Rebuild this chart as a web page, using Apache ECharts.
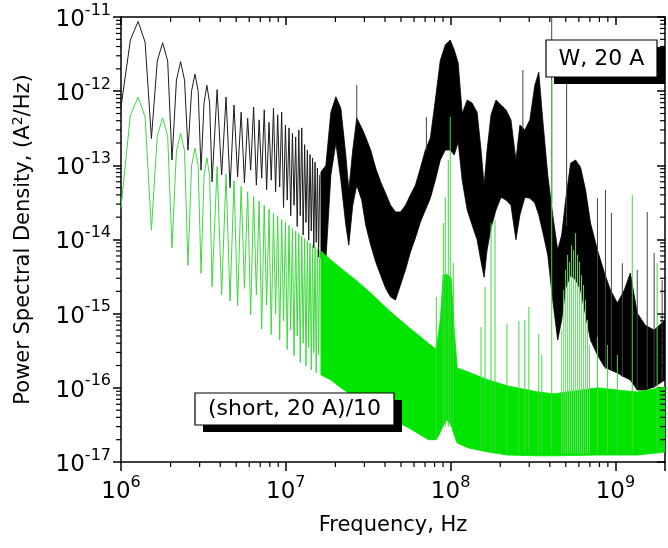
<!DOCTYPE html>
<html><head><meta charset="utf-8">
<script src="https://cdn.jsdelivr.net/npm/echarts@6.0.0/dist/echarts.min.js"></script>
<style>html,body{margin:0;padding:0;background:#fff}#c{width:668px;height:548px}</style>
</head><body><div id="c"></div>
<script>
// ---------- data ----------
// fringe region, shared frequencies (Hz)
const fringeF = [1.00e6,1.14e6,1.27e6,1.40e6,1.53e6,1.66e6,1.79e6,1.92e6,2.04e6,2.17e6,2.30e6,2.43e6,2.55e6,2.68e6,2.81e6,2.94e6,3.06e6,3.19e6,3.32e6,3.45e6,3.57e6,3.83e6,4.08e6,4.34e6,4.59e6,4.85e6,5.10e6,5.36e6,5.61e6,5.87e6,6.12e6,6.38e6,6.63e6,6.89e6,7.14e6,7.40e6,7.65e6,7.91e6,8.16e6,8.42e6,8.67e6,8.93e6,9.18e6,9.44e6,9.69e6,9.95e6,10.20e6,10.46e6,10.71e6,10.97e6,11.22e6,11.48e6,11.73e6,11.99e6,12.24e6,12.50e6,12.75e6,13.01e6,13.26e6,13.52e6,13.77e6,14.03e6,14.28e6,14.54e6,14.79e6,15.05e6,15.30e6,15.56e6,15.81e6,16.07e6];
const blackFringeV = [6.1e-13,4.9e-12,8.7e-12,4.6e-12,2.3e-13,2.55e-12,4.5e-12,2.55e-12,1.18e-13,1.41e-12,2.5e-12,1.41e-12,1.6e-13,1.0e-12,1.7e-12,1.0e-12,8.6e-14,6.9e-13,1.2e-12,6.9e-13,6.0e-14,1.05e-12,7.4e-14,8.3e-13,5.0e-14,6.5e-13,7.0e-14,5.2e-13,5.8e-14,4.3e-13,8.6e-14,6.1e-13,5.4e-14,4.1e-13,6.7e-14,5.6e-13,4.7e-14,3.8e-13,6.3e-14,5.9e-13,4.4e-14,4.8e-13,5.1e-14,5.2e-13,2.7e-14,3.5e-13,3.4e-14,3.2e-13,2.1e-14,2.7e-13,2.9e-14,2.4e-13,1.5e-14,3.0e-13,2.1e-14,3.2e-13,1.15e-14,1.9e-13,1.7e-14,1.6e-13,9.8e-15,1.4e-13,1.3e-14,1.26e-13,7.7e-15,1.1e-13,9.2e-15,9.2e-14,5.8e-15,7.4e-14];
const greenFringeV = [2.7e-14,4.8e-13,8.3e-13,4.5e-13,1.34e-14,2.5e-13,4.35e-13,2.5e-13,7.7e-15,1.56e-13,2.7e-13,1.56e-13,4.5e-15,9.8e-14,1.71e-13,9.8e-14,3.5e-15,7.2e-14,1.26e-13,7.2e-14,2.3e-15,9.6e-14,1.8e-15,7.6e-14,1.48e-15,6.2e-14,1.27e-15,5.2e-14,2.2e-15,4.4e-14,9.6e-16,3.8e-14,1.8e-15,3.3e-14,6.2e-16,2.9e-14,1.3e-15,2.55e-14,5.2e-16,2.28e-14,1.0e-15,2.05e-14,4.4e-16,1.85e-14,8.0e-16,1.69e-14,3.3e-16,1.54e-14,6.0e-16,1.41e-14,2.7e-16,1.30e-14,5.0e-16,1.20e-14,2.2e-16,1.11e-14,4.0e-16,1.03e-14,1.97e-16,9.6e-15,3.5e-16,9.0e-15,1.74e-16,8.4e-15,3.0e-16,7.9e-15,1.59e-16,7.45e-15,2.8e-16,7.0e-15];

// dense noisy band of "W, 20 A": upper / lower envelope
const blackBandF = [1.634e7,1.751e7,1.877e7,2.013e7,2.158e7,2.313e7,2.412e7,2.549e7,2.695e7,2.888e7,3.054e7,3.274e7,3.510e7,3.762e7,4.033e7,4.323e7,4.634e7,4.967e7,5.325e7,5.708e7,6.118e7,6.559e7,7.031e7,7.537e7,8.079e7,8.660e7,9.286e7,9.954e7,1.052e8,1.112e8,1.176e8,1.261e8,1.351e8,1.448e8,1.531e8,1.597e8,1.665e8,1.760e8,1.886e8,2.022e8,2.168e8,2.324e8,2.491e8,2.634e8,2.823e8,3.026e8,3.244e8,3.429e8,3.625e8,3.886e8,4.166e8,4.466e8,4.721e8,4.991e8,5.350e8,5.735e8,6.148e8,6.591e8,7.063e8,7.785e8,8.582e8,9.328e8,1.028e9,1.133e9,1.232e9,1.357e9,1.517e9,1.719e9,2.0e9];
const blackBandHi = [8.1e-14,1.0e-13,5.2e-13,8.4e-13,5.9e-13,1.38e-13,4.65e-14,1.61e-13,4.35e-13,3.2e-13,2.4e-13,1.61e-13,9.2e-14,6.0e-14,4.2e-14,2.9e-14,2.35e-14,2.35e-14,2.9e-14,4.0e-14,5.4e-14,9.2e-14,1.61e-13,2.34e-13,7.6e-13,2.6e-12,4.2e-12,4.9e-12,3.6e-12,2.4e-12,5.0e-13,7.6e-13,6.9e-13,5.2e-13,1.61e-13,5.4e-14,1.61e-13,4.8e-13,7.6e-13,6.5e-13,5.6e-13,4.1e-13,1.18e-13,3.5e-13,3.0e-13,4.1e-13,1.2e-12,1.8e-12,4.1e-13,7.4e-14,2.14e-14,7.2e-15,1.15e-14,3.4e-14,1.07e-13,1.18e-13,9.4e-14,4.65e-14,1.67e-14,7.2e-15,3.54e-15,2.09e-15,1.39e-15,2.09e-15,3.54e-15,1.02e-15,7.0e-16,6.0e-16,8.2e-16];
const blackBandLo = [5.6e-15,5.3e-15,7.4e-14,2.0e-13,6.3e-14,1.57e-14,8.4e-15,2.9e-14,5.4e-14,3.4e-14,1.57e-14,8.4e-15,5.0e-15,3.3e-15,2.2e-15,1.68e-15,1.53e-15,2.44e-15,3.9e-15,6.8e-15,1.05e-14,1.72e-14,2.5e-14,3.6e-14,6.3e-14,1.18e-13,1.61e-13,1.61e-13,1.38e-13,2.06e-13,6.3e-14,2.5e-14,1.57e-14,9.9e-15,5.0e-15,3.1e-15,7.2e-15,1.43e-14,2.5e-14,3.7e-14,3.4e-14,2.9e-14,9.9e-15,2.14e-14,3.7e-14,3.6e-14,3.1e-14,2.14e-14,1.26e-14,6.2e-15,1.53e-15,4.4e-16,8.2e-16,2.2e-15,3.3e-15,2.85e-15,2.09e-15,9.6e-16,4.4e-16,2.77e-16,1.91e-16,1.74e-16,1.59e-16,1.40e-16,1.28e-16,9.35e-17,9.35e-17,1.03e-16,1.28e-16];

// isolated lines of "W, 20 A"
const blackSpikeF    = [2.695e7,7.131e7,2.745e8,4.108e8,5.06e8,7.785e8,8.70e8,9.46e8,1.102e9,1.357e9,1.56e9,1.719e9,1.921e9];
const blackSpikeBase = [4.35e-13,1.6e-13,3.0e-13,3.0e-14,1.5e-14,2.0e-16,1.8e-16,1.7e-16,1.4e-16,1.0e-16,1.0e-16,1.0e-16,1.2e-16];
const blackSpikeTop  = [1.21e-12,4.48e-13,1.93e-12,1.0e-11,2.6e-12,3.6e-14,4.65e-14,2.28e-14,4.8e-15,3.9e-15,2.35e-14,6.6e-15,2.85e-15];

// dense band of "(short, 20 A)/10"
const greenBandF  = [1.634e7,1.877e7,2.158e7,2.658e7,3.274e7,4.205e7,5.551e7,7.332e7,8.194e7,8.660e7,9.03e7,9.546e7,1.009e8,1.052e8,1.097e8,1.278e8,1.688e8,2.229e8,3.381e8,4.225e8,7.785e8,1.028e9,1.357e9,2.0e9];
const greenBandHi = [7.0e-15,5.3e-15,4.1e-15,2.85e-15,1.9e-15,1.12e-15,6.6e-16,4.0e-16,3.3e-16,8.2e-16,3.3e-15,3.4e-15,3.0e-15,6.0e-16,1.85e-16,1.64e-16,1.28e-16,1.06e-16,8.8e-17,8.3e-17,1.0e-16,9.35e-17,8.8e-17,1.03e-16];
const greenBandLo = [1.49e-16,1.28e-16,1.0e-16,7.3e-17,5.35e-17,3.9e-17,2.9e-17,2.0e-17,2.0e-17,2.5e-17,3.15e-17,3.7e-17,3.15e-17,2.3e-17,1.8e-17,1.55e-17,1.36e-17,1.24e-17,1.21e-17,1.21e-17,1.24e-17,1.24e-17,1.24e-17,1.36e-17];

// isolated lines of "(short, 20 A)/10"
const greenSpikeF    = [8.194e7,9.03e7,9.286e7,9.68e7,9.954e7,1.038e8,1.531e8,1.619e8,1.760e8,1.86e8,2.198e8,2.597e8,2.823e8,2.985e8,3.429e8,3.58e8,4.108e8,7.785e8,8.946e8,1.028e9,1.266e9,1.792e9];
const greenSpikeBase = [2.0e-17,3.0e-17,3.0e-17,3.0e-17,3.0e-17,3.0e-17,1.5e-17,1.5e-17,1.4e-17,1.4e-17,1.3e-17,1.3e-17,1.3e-17,1.3e-17,1.3e-17,1.3e-17,1.3e-17,1.3e-17,1.3e-17,1.3e-17,1.3e-17,1.3e-17];
const greenSpikeTop  = [1.68e-15,1.67e-14,3.7e-14,1.18e-13,4.5e-13,4.8e-15,6.6e-16,2.29e-15,1.67e-14,1.83e-14,7.3e-16,8.0e-16,8.2e-16,1.23e-15,5.3e-16,2.8e-16,1.41e-12,4.85e-16,3.78e-16,2.77e-16,3.98e-14,4.8e-15];
// cluster of lines of "(short, 20 A)/10" around 5-7 x 10^8 Hz
const greenHumpF   = [4.721e8,4.856e8,4.991e8,5.131e8,5.276e8,5.424e8,5.577e8,5.735e8,5.896e8,6.062e8,6.233e8,6.409e8,6.591e8,6.772e8,6.966e8];
const greenHumpTop = [6.0e-16,2.09e-15,3.9e-15,6.2e-15,5.0e-15,8.4e-15,7.2e-15,1.22e-14,6.2e-15,5.0e-15,3.3e-15,2.44e-15,1.53e-15,8.2e-16,3.8e-16];
const greenHumpBase = [1.3e-17,1.3e-17,1.3e-17,1.3e-17,1.3e-17,1.3e-17,1.3e-17,1.3e-17,1.3e-17,1.3e-17,1.3e-17,1.3e-17,1.3e-17,1.3e-17,1.3e-17];

// axis ranges
const xRange = [1e6, 2e9];
const yRange = [1e-17, 1e-11];
const xDecades = [1e6, 1e7, 1e8, 1e9];
const yDecades = [1e-17, 1e-16, 1e-15, 1e-14, 1e-13, 1e-12];

// ---------- chart ----------
const FONT = 'DejaVu Sans';
const BLACK = '#000';
const GREEN_LINE = '#3fd83f';
const GREEN_LIGHT = '#62df62';
const GREEN_FILL = '#00e400';

const xMinor = [];
xDecades.forEach(d => { for (let m = 2; m <= 9; m++) { const v = m * d; if (v < xRange[1]) xMinor.push(v); } });
const yMinor = [];
yDecades.forEach(d => { for (let m = 2; m <= 9; m++) yMinor.push(m * d); });

function supLabel(v) {
  const lg = Math.log10(v), n = Math.round(lg);
  if (Math.abs(lg - n) > 0.01) return '';
  return '{b|10}{s|' + n + '}';
}
const tickRich = {
  b: { fontFamily: FONT, fontSize: 23, lineHeight: 29, verticalAlign: 'bottom', color: '#000' },
  s: { fontFamily: FONT, fontSize: 16, lineHeight: 16, verticalAlign: 'top', color: '#000' }
};
const axisLine = { show: true, onZero: false, lineStyle: { color: '#000', width: 1.5 } };

function bandRenderer(F, HI, LO, color) {
  return function (params, api) {
    if (params.dataIndex !== 0) return null;
    const pts = [];
    for (let i = 0; i < F.length; i++) pts.push(api.coord([F[i], HI[i]]));
    for (let i = F.length - 1; i >= 0; i--) pts.push(api.coord([F[i], LO[i]]));
    return { type: 'polygon', shape: { points: pts }, style: { fill: color, stroke: color, lineWidth: 0.8 } };
  };
}
function spikeRenderer(color, width) {
  return function (params, api) {
    const a = api.coord([api.value(0), api.value(1)]);
    const b = api.coord([api.value(0), api.value(2)]);
    return { type: 'line', shape: { x1: a[0], y1: a[1], x2: b[0], y2: b[1] }, style: { stroke: color, lineWidth: width } };
  };
}

const chart = echarts.init(document.getElementById('c'), null, { renderer: 'canvas' });
chart.setOption({
  animation: false,
  backgroundColor: '#fff',
  grid: { left: 121, right: 1, top: 17, bottom: 86 },
  xAxis: [
    { type: 'log', logBase: 10, min: xRange[0], max: xRange[1], splitNumber: 4, position: 'bottom',
      axisLine: axisLine, axisTick: { show: true, inside: false, length: 9, lineStyle: { color: '#000', width: 1.5 } },
      axisLabel: { formatter: supLabel, rich: tickRich, margin: 13 },
      splitLine: { show: false }, minorTick: { show: false },
      name: 'Frequency, Hz', nameLocation: 'middle', nameGap: 53,
      nameTextStyle: { fontFamily: FONT, fontSize: 21, color: '#000' } },
    { type: 'log', logBase: 10, min: xRange[0], max: xRange[1], splitNumber: 4, position: 'top',
      axisLine: axisLine, axisTick: { show: true, inside: true, length: 8, lineStyle: { color: '#000', width: 1.5 } },
      axisLabel: { show: false }, splitLine: { show: false } }
  ],
  yAxis: [
    { type: 'log', logBase: 10, min: yRange[0], max: yRange[1], splitNumber: 6, position: 'left',
      axisLine: axisLine, axisTick: { show: true, inside: false, length: 8, lineStyle: { color: '#000', width: 1.5 } },
      axisLabel: { formatter: supLabel, rich: tickRich, margin: 10 },
      splitLine: { show: false }, minorTick: { show: false },
      name: 'Power Spectral Density, (A{u|2}/Hz)', nameLocation: 'middle', nameRotate: 90, nameGap: 84,
      nameTextStyle: { fontFamily: FONT, fontSize: 21, color: '#000', lineHeight: 26,
        rich: { u: { fontFamily: FONT, fontSize: 14, lineHeight: 14, verticalAlign: 'top', color: '#000' } } } },
    { type: 'log', logBase: 10, min: yRange[0], max: yRange[1], splitNumber: 6, position: 'right',
      axisLine: axisLine, axisTick: { show: true, inside: true, length: 8, lineStyle: { color: '#000', width: 1.5 } },
      axisLabel: { show: false }, splitLine: { show: false } }
  ],
  series: [
    { name: 'W, 20 A fringes', type: 'line', data: fringeF.map((f, i) => [f, blackFringeV[i]]),
      showSymbol: false, symbol: 'none', lineStyle: { color: '#1c1c1c', width: 1 }, z: 2 },
    { name: 'W, 20 A band', type: 'custom', coordinateSystem: 'cartesian2d', clip: true, z: 2,
      data: blackBandF.map((f, i) => [f, blackBandHi[i], blackBandLo[i]]), encode: { x: 0, y: [1, 2] },
      renderItem: bandRenderer(blackBandF, blackBandHi, blackBandLo, BLACK) },
    { name: 'W, 20 A lines', type: 'custom', coordinateSystem: 'cartesian2d', clip: true, z: 2,
      data: blackSpikeF.map((f, i) => [f, blackSpikeBase[i], blackSpikeTop[i]]), encode: { x: 0, y: [1, 2] },
      renderItem: spikeRenderer('#444', 1) },
    { name: 'short fringes', type: 'line', data: fringeF.map((f, i) => [f, greenFringeV[i]]),
      showSymbol: false, symbol: 'none', lineStyle: { color: GREEN_LINE, width: 1 }, z: 3 },
    { name: 'short band', type: 'custom', coordinateSystem: 'cartesian2d', clip: true, z: 3,
      data: greenBandF.map((f, i) => [f, greenBandHi[i], greenBandLo[i]]), encode: { x: 0, y: [1, 2] },
      renderItem: bandRenderer(greenBandF, greenBandHi, greenBandLo, GREEN_FILL) },
    { name: 'short lines', type: 'custom', coordinateSystem: 'cartesian2d', clip: true, z: 3,
      data: greenSpikeF.map((f, i) => [f, greenSpikeBase[i], greenSpikeTop[i]]), encode: { x: 0, y: [1, 2] },
      renderItem: spikeRenderer(GREEN_LINE, 1) },
    { name: 'short cluster', type: 'custom', coordinateSystem: 'cartesian2d', clip: true, z: 3,
      data: greenHumpF.map((f, i) => [f, greenHumpBase[i], greenHumpTop[i]]), encode: { x: 0, y: [1, 2] },
      renderItem: spikeRenderer(GREEN_LIGHT, 1) },
    { name: 'x minor ticks', type: 'custom', coordinateSystem: 'cartesian2d', clip: false, silent: true, z: 10,
      data: xMinor.map(v => [v, yRange[0]]),
      renderItem: function (params, api) {
        const b = api.coord([api.value(0), yRange[0]]), t = api.coord([api.value(0), yRange[1]]);
        return { type: 'group', children: [
          { type: 'line', shape: { x1: b[0], y1: b[1], x2: b[0], y2: b[1] + 5 }, style: { stroke: '#000', lineWidth: 1.2 } },
          { type: 'line', shape: { x1: t[0], y1: t[1], x2: t[0], y2: t[1] + 5 }, style: { stroke: '#000', lineWidth: 1.2 } } ] };
      } },
    { name: 'y minor ticks', type: 'custom', coordinateSystem: 'cartesian2d', clip: false, silent: true, z: 10,
      data: yMinor.map(v => [xRange[0], v]),
      renderItem: function (params, api) {
        const l = api.coord([xRange[0], api.value(1)]), r = api.coord([xRange[1], api.value(1)]);
        return { type: 'group', children: [
          { type: 'line', shape: { x1: l[0], y1: l[1], x2: l[0] - 5, y2: l[1] }, style: { stroke: '#000', lineWidth: 1.2 } },
          { type: 'line', shape: { x1: r[0], y1: r[1], x2: r[0] - 5, y2: r[1] }, style: { stroke: '#000', lineWidth: 1.2 } } ] };
      } }
  ],
  graphic: [
    { type: 'rect', z: 100, shape: { x: 554, y: 47, width: 111, height: 37 }, style: { fill: '#000' } },
    { type: 'rect', z: 101, shape: { x: 546, y: 40, width: 111, height: 37 }, style: { fill: '#fff', stroke: '#000', lineWidth: 1.2 } },
    { type: 'text', z: 102, x: 601.5, y: 59, style: { text: 'W, 20 A', fontFamily: FONT, fontSize: 22, fill: '#000', align: 'center', verticalAlign: 'middle' } },
    { type: 'rect', z: 100, shape: { x: 203, y: 400, width: 199, height: 32 }, style: { fill: '#000' } },
    { type: 'rect', z: 101, shape: { x: 195, y: 393, width: 199, height: 32 }, style: { fill: '#fff', stroke: '#000', lineWidth: 1.2 } },
    { type: 'text', z: 102, x: 294.5, y: 409.5, style: { text: '(short, 20 A)/10', fontFamily: FONT, fontSize: 22, fill: '#000', align: 'center', verticalAlign: 'middle' } }
  ]
});
</script></body></html>
